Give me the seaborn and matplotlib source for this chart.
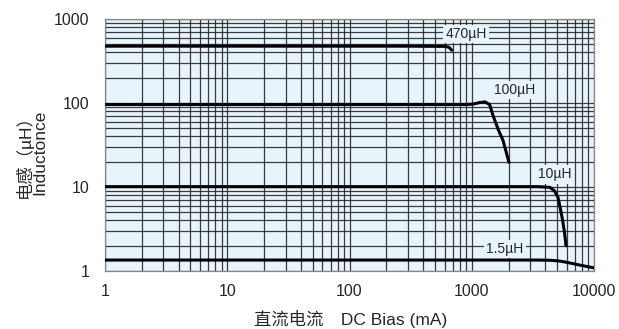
import matplotlib
matplotlib.use("Agg")
import matplotlib.pyplot as plt
import seaborn as sns
import pandas as pd
from matplotlib.ticker import LogLocator, FixedLocator, NullFormatter, FixedFormatter

# ---- data ----
x_470 = [1, 300, 600, 650, 686]
y_470 = [475, 475, 472, 462, 426]

x_100 = [1, 900, 1023, 1150, 1283, 1400, 1493, 1650, 1800, 2018]
y_100 = [96, 96, 97, 101, 103, 96, 71, 48, 36, 19.6]

x_10 = [1, 3500, 4365, 4750, 5080, 5300, 5545, 5750, 5900]
y_10 = [10.1, 10.1, 9.9, 9.0, 7.5, 5.6, 3.97, 2.8, 2.0]

x_15 = [1, 3500, 4500, 5300, 6300, 8000, 10000]
y_15 = [1.35, 1.35, 1.34, 1.31, 1.25, 1.16, 1.09]

series_names = ["470µH", "100µH", "10µH", "1.5µH"]
label_x = [897, 2260, 4800, 1870]
label_y = [662, 142, 14.1, 1.84]

x_ticks = [1, 10, 100, 1000, 10000]
x_tick_labels = ["1", "10", "100", "1000", "10000"]
y_ticks = [1, 10, 100, 1000]
y_tick_labels = ["1", "10", "100", "1000"]

rows = []
for name, xs, ys in zip(series_names, [x_470, x_100, x_10, x_15], [y_470, y_100, y_10, y_15]):
    for xv, yv in zip(xs, ys):
        rows.append({"series": name, "current": xv, "L": yv})
df = pd.DataFrame(rows)

sns.set_style("white")
plt.rcParams["font.family"] = ["Liberation Sans", "Noto Sans CJK SC", "DejaVu Sans"]

fig = plt.figure(figsize=(6.19, 3.29), dpi=100)
ax = fig.add_axes([105 / 619, 1 - 271 / 329, (594 - 105) / 619, (271 - 19) / 329])
ax.set_facecolor("#e8f4fc")

sns.lineplot(data=df, x="current", y="L", units="series", estimator=None, sort=False,
             color="black", linewidth=2.2, ax=ax, legend=False, zorder=5)

ax.set_xscale("log")
ax.set_yscale("log")
ax.set_xlim(1, 10000)
ax.set_ylim(1, 1000)

ax.xaxis.set_major_locator(FixedLocator(x_ticks))
ax.xaxis.set_major_formatter(FixedFormatter(x_tick_labels))
ax.yaxis.set_major_locator(FixedLocator(y_ticks))
ax.yaxis.set_major_formatter(FixedFormatter(y_tick_labels))
ax.xaxis.set_minor_locator(LogLocator(base=10, subs=range(2, 10), numticks=20))
ax.yaxis.set_minor_locator(LogLocator(base=10, subs=range(2, 10), numticks=20))
ax.xaxis.set_minor_formatter(NullFormatter())
ax.yaxis.set_minor_formatter(NullFormatter())

ax.grid(True, which="both", color="#1a1a1a", linewidth=0.9, alpha=0.85, zorder=1)
ax.set_axisbelow(True)
ax.tick_params(which="both", length=0)
ax.tick_params(axis="x", pad=9, labelsize=11.5)
ax.tick_params(axis="y", pad=11, labelsize=11.5)

for s in ax.spines.values():
    s.set_color("#888888")
    s.set_linewidth(0.9)

for name, lx, ly in zip(series_names, label_x, label_y):
    ax.text(lx, ly, name, fontsize=10, ha="center", va="center", zorder=6,
            bbox=dict(facecolor="#e8f4fc", edgecolor="none", pad=1.5))

ax.set_xlabel("直流电流　DC Bias (mA)", fontsize=12.5)
ax.xaxis.set_label_coords(0.503, -0.155)
ax.set_ylabel("电感（µH）\nInductonce", fontsize=12.5, linespacing=0.95)
ax.yaxis.set_label_coords(-0.118, 0.47)

fig.savefig("out.png", dpi=100)
